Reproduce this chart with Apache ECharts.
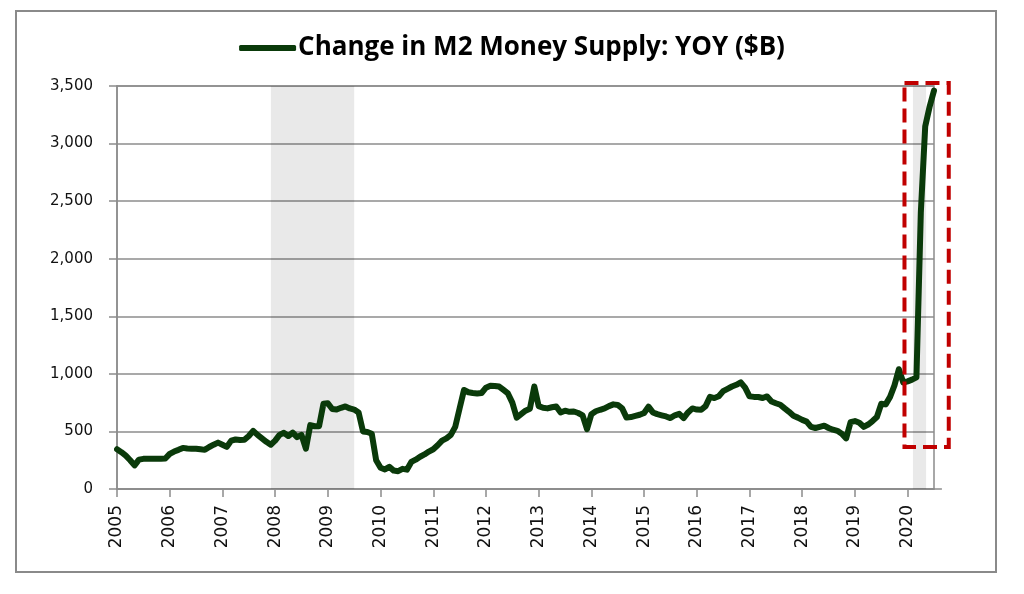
<!DOCTYPE html>
<html>
<head>
<meta charset="utf-8">
<script src="https://cdn.jsdelivr.net/npm/echarts@6/dist/echarts.min.js"></script>
<style>
html,body{margin:0;padding:0;background:#fff;}
#chart{width:1024px;height:594px;}
</style>
</head>
<body>
<div id="chart"></div>
<script>
// ---- DATA ----
const seriesName = 'Change in M2 Money Supply: YOY ($B)';
const startYear = 2005; // first value = Jan 2005, monthly
const m2YoY = [
  // 2005
  345, 320, 290, 250, 205, 255, 262, 262, 262, 262, 262, 265,
  // 2006
  305, 325, 340, 357, 352, 350, 350, 345, 340, 365, 385, 403,
  // 2007
  385, 366, 420, 430, 425, 427, 460, 505, 470, 440, 410, 385,
  // 2008
  420, 470, 488, 460, 490, 450, 470, 350, 555, 545, 545, 740,
  // 2009
  745, 695, 690, 705, 717, 700, 690, 665, 500, 495, 480, 250,
  // 2010
  185, 170, 192, 160, 155, 175, 168, 235, 255, 280, 300, 325,
  // 2011
  345, 380, 420, 440, 470, 540, 700, 860, 840, 834, 830, 834,
  // 2012
  880, 897, 895, 890, 860, 830, 750, 620, 650, 680, 697, 890,
  // 2013
  720, 705, 700, 710, 717, 665, 680, 670, 673, 660, 640, 520,
  // 2014
  650, 675, 688, 700, 720, 735, 730, 700, 620, 625, 635, 645,
  // 2015
  660, 715, 665, 650, 640, 630, 616, 640, 653, 616, 665, 700,
  // 2016
  690, 688, 720, 800, 790, 805, 850, 870, 890, 905, 926, 880,
  // 2017
  805, 800, 799, 790, 804, 760, 745, 732, 700, 670, 636, 620,
  // 2018
  600, 585, 540, 530, 540, 550, 530, 515, 505, 480, 440, 580,
  // 2019
  590, 575, 540, 560, 590, 625, 740, 735, 800, 900, 1040, 925,
  // 2020
  935, 950, 970, 2400, 3150, 3320, 3460
];
const yearTicks = [2005, 2006, 2007, 2008, 2009, 2010, 2011, 2012, 2013, 2014, 2015, 2016, 2017, 2018, 2019, 2020];
const recessions = [[2007.92, 2009.5], [2020.1, 2020.35]];
const highlightFrom = [2019.94, 365];
const highlightTo = [2020.78, 3526];
const axisEnd = 2020.65;

// ---- BUILD ----
const points = m2YoY.map((v, i) => [startYear + i / 12, v]);
const axisGray = '#8c8c8c';
const lineColor = '#0a3a0a';

const chart = echarts.init(document.getElementById('chart'), null, {renderer: 'canvas'});
const option = {
  backgroundColor: '#fff',
  animation: false,
  legend: {
    show: true,
    left: 'center',
    top: 30,
    icon: 'roundRect',
    itemWidth: 57,
    itemHeight: 6,
    itemGap: 10,
    data: [{name: seriesName, itemStyle: {color: lineColor}}],
    textStyle: {fontFamily: 'Open Sans', fontWeight: 'bold', fontSize: 26, color: '#000', padding: [0, 0, 0, -3]}
  },
  grid: {
    left: 117, right: 90, top: 86, bottom: 105,
    show: true, borderColor: axisGray, borderWidth: 1.5, backgroundColor: 'transparent'
  },
  xAxis: {
    type: 'value',
    min: 2005, max: 2020.5,
    axisLine: {show: true, onZero: false, lineStyle: {color: axisGray, width: 1.5}},
    axisTick: {show: true, customValues: yearTicks, length: 8, lineStyle: {color: axisGray, width: 1.5}},
    axisLabel: {
      customValues: yearTicks,
      rotate: 90, margin: 16,
      fontFamily: 'DejaVu Sans', fontSize: 17, color: '#111',
      formatter: v => String(Math.round(v))
    },
    splitLine: {show: false}
  },
  yAxis: {
    type: 'value',
    min: 0, max: 3500, interval: 500,
    axisLine: {show: true, lineStyle: {color: axisGray, width: 1.5}},
    axisTick: {show: true, length: 8, lineStyle: {color: axisGray, width: 1.5}},
    axisLabel: {
      margin: 24, fontFamily: 'DejaVu Sans', fontSize: 15, color: '#111',
      formatter: v => v.toLocaleString('en-US')
    },
    splitLine: {show: true, lineStyle: {color: axisGray, width: 1.5}}
  },
  series: [{
    name: seriesName,
    type: 'line',
    data: points,
    showSymbol: false,
    symbol: 'none',
    lineStyle: {color: lineColor, width: 6, cap: 'round', join: 'round'},
    itemStyle: {color: lineColor},
    z: 5,
    markArea: {
      silent: true,
      itemStyle: {color: 'rgba(0,0,0,0.085)'},
      data: recessions.map(r => [{xAxis: r[0]}, {xAxis: r[1]}])
    }
  }]
};
chart.setOption(option);

// frame, axis extension and highlight box; positions derived from data through the chart's scales
const p1 = chart.convertToPixel({gridIndex: 0}, highlightFrom);
const p2 = chart.convertToPixel({gridIndex: 0}, highlightTo);
const a0 = chart.convertToPixel({gridIndex: 0}, [2020.5, 0]);
const a1 = chart.convertToPixel({gridIndex: 0}, [axisEnd, 0]);
chart.setOption({
  graphic: [
    {
      type: 'rect', z: 0, silent: true,
      shape: {x: 16, y: 11, width: 980, height: 561},
      style: {fill: 'none', stroke: '#8a8a8a', lineWidth: 2}
    },
    {
      type: 'line', z: 50, silent: true,
      shape: {x1: a0[0], y1: a0[1], x2: a1[0], y2: a1[1]},
      style: {stroke: axisGray, lineWidth: 1.5}
    },
    {
      type: 'rect', z: 100, silent: true,
      shape: {x: Math.min(p1[0], p2[0]), y: Math.min(p1[1], p2[1]), width: Math.abs(p2[0] - p1[0]), height: Math.abs(p2[1] - p1[1])},
      style: {fill: 'none', stroke: '#c00000', lineWidth: 4, lineDash: [14, 7]}
    }
  ]
});
</script>
</body>
</html>
